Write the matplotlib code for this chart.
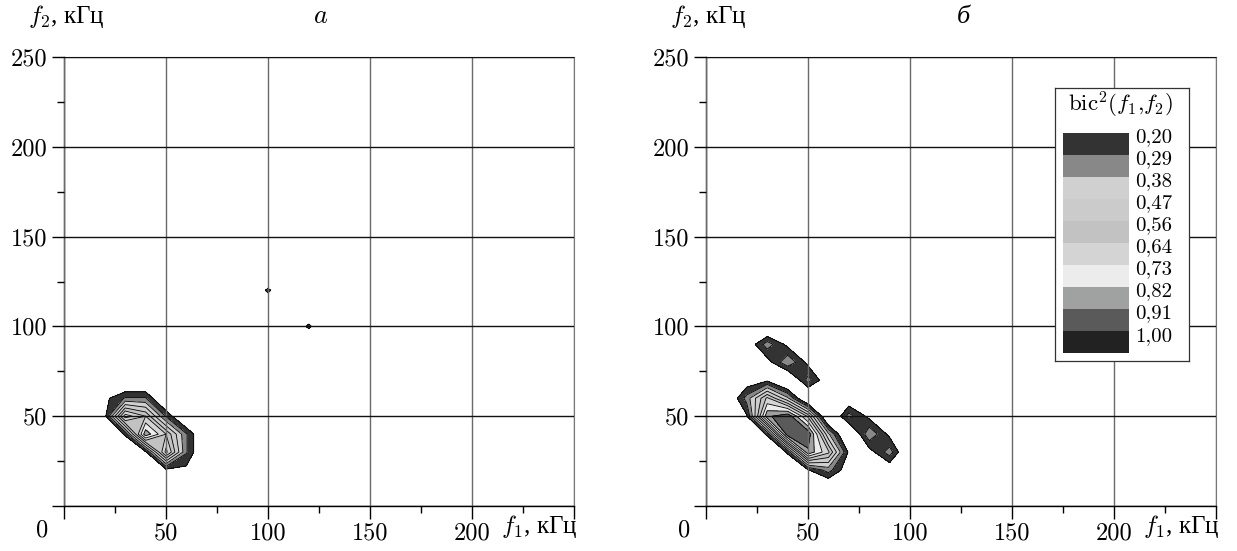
import numpy as np
import matplotlib.pyplot as plt

plt.rcParams['mathtext.fontset'] = 'cm'

# grid of the bicoherence maps, kHz
f1 = np.arange(0, 140, 10)
f2 = np.arange(0, 140, 10)

# panel a, rows are f2 = 0, 10, ... 130
bic_a = [
    [0, 0, 0, 0, 0, 0, 0, 0, 0, 0, 0, 0, 0, 0],
    [0, 0, 0, 0, 0, 0, 0, 0, 0, 0, 0, 0, 0, 0],
    [0, 0, 0, 0, 0, 0.17, 0.17, 0, 0, 0, 0, 0, 0, 0],
    [0, 0, 0, 0, 0.18, 0.76, 0.30, 0.02, 0, 0, 0, 0, 0, 0],
    [0, 0, 0, 0.22, 0.88, 0.64, 0.30, 0.02, 0, 0, 0, 0, 0, 0],
    [0, 0, 0.17, 0.78, 0.64, 0.28, 0.02, 0, 0, 0, 0, 0, 0, 0],
    [0, 0, 0.17, 0.30, 0.30, 0.02, 0, 0, 0, 0, 0, 0, 0, 0],
    [0, 0, 0, 0.02, 0.02, 0, 0, 0, 0, 0, 0, 0, 0, 0],
    [0, 0, 0, 0, 0, 0, 0, 0, 0, 0, 0, 0, 0, 0],
    [0, 0, 0, 0, 0, 0, 0, 0, 0, 0, 0, 0, 0, 0],
    [0, 0, 0, 0, 0, 0, 0, 0, 0, 0, 0, 0, 0.23, 0],
    [0, 0, 0, 0, 0, 0, 0, 0, 0, 0, 0, 0, 0, 0],
    [0, 0, 0, 0, 0, 0, 0, 0, 0, 0, 0.23, 0, 0, 0],
    [0, 0, 0, 0, 0, 0, 0, 0, 0, 0, 0, 0, 0, 0],
]

# panel b
bic_b = [
    [0, 0, 0, 0, 0, 0, 0, 0, 0, 0, 0, 0, 0, 0],
    [0, 0, 0, 0, 0, 0, 0.05, 0, 0, 0, 0, 0, 0, 0],
    [0, 0, 0, 0, 0.02, 0.19, 0.33, 0.12, 0, 0.10, 0.10, 0, 0, 0],
    [0, 0, 0, 0, 0.22, 0.89, 0.66, 0.18, 0.15, 0.34, 0.02, 0, 0, 0],
    [0, 0, 0.02, 0.22, 0.97, 0.98, 0.40, 0, 0.37, 0.17, 0, 0, 0, 0],
    [0, 0, 0.19, 0.89, 0.98, 0.62, 0, 0.33, 0.17, 0, 0, 0, 0, 0],
    [0, 0.05, 0.33, 0.66, 0.40, 0, 0.12, 0.10, 0, 0, 0, 0, 0, 0],
    [0, 0, 0.12, 0.18, 0, 0.33, 0.10, 0, 0, 0, 0, 0, 0, 0],
    [0, 0, 0, 0.15, 0.37, 0.17, 0, 0, 0, 0, 0, 0, 0, 0],
    [0, 0, 0.10, 0.34, 0.17, 0, 0, 0, 0, 0, 0, 0, 0, 0],
    [0, 0, 0.10, 0.02, 0, 0, 0, 0, 0, 0, 0, 0, 0, 0],
    [0, 0, 0, 0, 0, 0, 0, 0, 0, 0, 0, 0, 0, 0],
    [0, 0, 0, 0, 0, 0, 0, 0, 0, 0, 0, 0, 0, 0],
    [0, 0, 0, 0, 0, 0, 0, 0, 0, 0, 0, 0, 0, 0],
]

levels = [0.20, 0.29, 0.38, 0.47, 0.56, 0.64, 0.73, 0.82, 0.91, 1.00]
level_labels = ['0,20', '0,29', '0,38', '0,47', '0,56', '0,64', '0,73', '0,82', '0,91', '1,00']
grays = ['#333333', '#888888', '#d0d0d0', '#cbcbcb', '#c2c2c2',
         '#d4d4d4', '#ececec', '#a0a2a2', '#5a5a5a', '#222222']

x_ticks = [0, 50, 100, 150, 200, 250]
x_labels = ['', '50', '100', '150', '200', '']
y_ticks = [0, 50, 100, 150, 200, 250]
y_labels = ['', '50', '100', '150', '200', '250']
minor_ticks = [25, 75, 125, 175, 225]

num_font = 'cmr10'
txt_font = 'Liberation Serif'

fig = plt.figure(figsize=(12.37, 5.51), dpi=100)
ax_a = fig.add_axes([64 / 1237, 45 / 551, 510 / 1237, 449 / 551])
ax_b = fig.add_axes([706 / 1237, 45 / 551, 510 / 1237, 449 / 551])


def panel(ax, z, letter):
    X, Y = np.meshgrid(f1, f2)
    z = np.array(z)
    ax.contourf(X, Y, z, levels=levels, colors=grays[:-1], zorder=1)
    ax.contour(X, Y, z, levels=levels, colors='black', linewidths=0.6, zorder=1.2)
    ax.set_xlim(0, 250)
    ax.set_ylim(0, 250)

    ax.set_xticks(x_ticks)
    ax.set_xticklabels(x_labels, fontfamily=num_font, fontsize=17.5)
    ax.set_yticks(y_ticks)
    ax.set_yticklabels(y_labels, fontfamily=num_font, fontsize=17.5)
    ax.set_xticks(minor_ticks, minor=True)
    ax.set_yticks(minor_ticks, minor=True)
    ax.tick_params(which='major', length=9, width=1, direction='out', pad=3)
    ax.tick_params(which='minor', length=5, width=1, direction='out')

    ax.xaxis.grid(True, which='major', color='#6a6a6a', lw=1.0)
    ax.yaxis.grid(True, which='major', color='#111111', lw=1.0)
    ax.set_axisbelow(False)

    ax.spines['left'].set_linewidth(1.0)
    ax.spines['bottom'].set_linewidth(1.0)
    ax.spines['top'].set_color('#444444')
    ax.spines['right'].set_color('#777777')

    ax.annotate('0', xy=(0, 0), xycoords='axes fraction', xytext=(-22, -24),
                textcoords='offset pixels', ha='center', va='center',
                fontfamily=num_font, fontsize=17.5)
    ax.annotate(r'$f_1$, кГц', xy=(1, 0), xycoords='axes fraction', xytext=(-35, -21),
                textcoords='offset pixels', ha='center', va='center',
                fontfamily=txt_font, fontsize=18)
    ax.annotate(r'$f_2$, кГц', xy=(0, 1), xycoords='axes fraction', xytext=(2, 40),
                textcoords='offset pixels', ha='center', va='center',
                fontfamily=txt_font, fontsize=18)
    ax.annotate(letter, xy=(0.5, 1), xycoords='axes fraction', xytext=(2, 40),
                textcoords='offset pixels', ha='center', va='center',
                fontfamily=txt_font, fontstyle='italic', fontsize=19)


panel(ax_a, bic_a, r'$a$')
panel(ax_b, bic_b, 'б')

# colour key of panel b
lax = ax_b.inset_axes([0.684, 0.323, 0.263, 0.608])
lax.set_facecolor('white')
lax.set_xlim(0, 1)
lax.set_ylim(12.4, 0)
lax.set_xticks([])
lax.set_yticks([])
for s in lax.spines.values():
    s.set_linewidth(0.9)
    s.set_color('#333333')
rows = np.arange(len(levels)) + 2.05
lax.barh(rows, 0.49, left=0.06, height=1.0, align='edge', color=grays)
for r, lab in zip(rows, level_labels):
    lax.text(0.6, r + 0.2, lab, va='center', ha='left',
             fontfamily=num_font, fontsize=15)
lax.text(0.49, 0.75, r'$\mathrm{bic}^2(f_1{,}f_2)$', ha='center', va='center', fontsize=16.5)

fig.savefig('out.png', dpi=100)
